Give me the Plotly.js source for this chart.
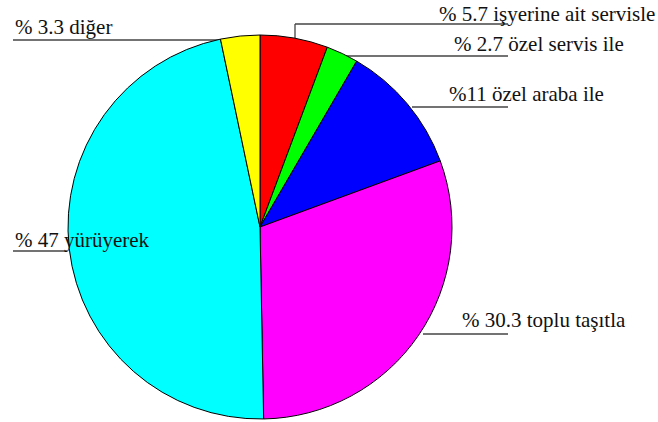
<!DOCTYPE html>
<html>
<head>
<meta charset="utf-8">
<script src="https://cdn.plot.ly/plotly-3.0.1.min.js"></script>
<style>html,body{margin:0;padding:0;background:#fff;}#chart{width:658px;height:422px;}</style>
</head>
<body>
<div id="chart"></div>
<script>
const categories = ["işyerine ait servisle", "özel servis ile", "özel araba ile", "toplu taşıtla", "yürüyerek", "diğer"];
const values = [5.7, 2.7, 11, 30.3, 47, 3.3];
const labelTexts = ["% 5.7 işyerine ait servisle", "% 2.7 özel servis ile", "%11 özel araba ile", "% 30.3 toplu taşıtla", "% 47 yürüyerek", "% 3.3 diğer"];
const sliceColors = ["#ff0000", "#00ff00", "#0000ff", "#ff00ff", "#00ffff", "#ffff00"];

const W = 658, H = 422;
const px = x => x / W;
const py = y => 1 - y / H;

// pie geometry (pixels)
const cx = 260, cy = 227, r = 192;

// label positions (pixel, left x, center y) and leader lines
const labelPos = [
  [437, 14], [452, 44], [447, 94], [460, 320], [13, 240], [13, 27]
];
const leaders = [
  [[295, 40], [295, 24], [508, 24]],
  [[343, 56], [508, 56]],
  [[412, 107], [508, 107]],
  [[423, 334], [508, 334]],
  [[13, 251], [67, 251]],
  [[13, 40], [222, 40]]
];

const shapes = [];
leaders.forEach(pts => {
  for (let i = 0; i < pts.length - 1; i++) {
    shapes.push({type: 'line', xref: 'paper', yref: 'paper',
      x0: px(pts[i][0]), y0: py(pts[i][1]), x1: px(pts[i+1][0]), y1: py(pts[i+1][1]),
      line: {color: '#444', width: 1.3}, layer: 'below'});
  }
});

const annotations = labelTexts.map((t, i) => ({
  text: t, xref: 'paper', yref: 'paper', x: px(labelPos[i][0]), y: py(labelPos[i][1]),
  xanchor: 'left', yanchor: 'middle', showarrow: false,
  font: {family: 'Liberation Serif', size: 21, color: '#111'}
}));

const trace = {
  type: 'pie',
  labels: categories,
  values: values,
  sort: false,
  direction: 'clockwise',
  rotation: 0,
  textinfo: 'none',
  hoverinfo: 'label+value',
  marker: {colors: sliceColors, line: {color: '#000', width: 1}},
  domain: {x: [px(cx - r), px(cx + r)], y: [py(cy + r), py(cy - r)]},
  showlegend: false
};

const layout = {
  width: W, height: H,
  margin: {l: 0, r: 0, t: 0, b: 0},
  paper_bgcolor: '#fff',
  font: {family: 'Liberation Serif'},
  showlegend: false,
  shapes: shapes,
  annotations: annotations
};

Plotly.newPlot('chart', [trace], layout, {displayModeBar: false, staticPlot: true});
</script>
</body>
</html>
